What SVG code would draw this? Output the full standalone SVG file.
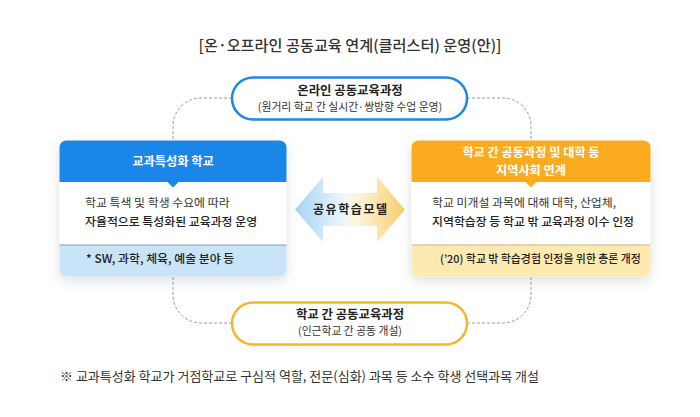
<svg xmlns="http://www.w3.org/2000/svg" width="700" height="417" viewBox="0 0 700 417">
<defs>
<style>
text{font-family:"Noto Sans CJK KR","Noto Sans",sans-serif;fill:#2b2b2b}
.title{font-size:15.2px;font-weight:500;fill:#333}
.ph{font-size:12.4px;font-weight:700;text-anchor:middle;fill:#222}
.ps{font-size:10.8px;text-anchor:middle;fill:#333}
.hd{font-size:12.2px;font-weight:700;fill:#fff;text-anchor:middle}
.b1{font-size:11.9px;font-weight:400;fill:#333}
.b2{font-size:11.9px;font-weight:500;fill:#222}
.ft{font-size:11.9px;font-weight:500;fill:#222}
.note{font-size:13px;fill:#333}
.dash{fill:none;stroke:#9a9a9a;stroke-width:1;stroke-dasharray:3 2}
</style>
<filter id="sh" x="-20%" y="-20%" width="140%" height="150%">
<feDropShadow dx="0" dy="4" stdDeviation="6" flood-color="#5a6a80" flood-opacity="0.22"/>
</filter>
<linearGradient id="ag" x1="295" y1="0" x2="405" y2="0" gradientUnits="userSpaceOnUse">
<stop offset="0" stop-color="#a6d4f2"/>
<stop offset="0.45" stop-color="#eef7fc"/>
<stop offset="0.55" stop-color="#fff6df"/>
<stop offset="1" stop-color="#f8cd6a"/>
</linearGradient>
</defs>
<rect width="700" height="417" fill="#fff"/>
<text class="title" x="350" y="51" text-anchor="middle">[온·오프라인 공동교육 연계(클러스터) 운영(안)]</text>
<g id="connectors">
<path class="dash" d="M232,98 H201 A28,28 0 0 0 173,126 V141"/>
<path class="dash" d="M467,98 H503 A28,28 0 0 1 531,126 V141"/>
<path class="dash" d="M173,277 V295 A28,28 0 0 0 201,323 H232"/>
<path class="dash" d="M531,277 V295 A28,28 0 0 1 503,323 H467"/>
</g>
<g id="online">
<rect x="232" y="77.5" width="235" height="42" rx="21" fill="#fff" stroke="#1f87e5" stroke-width="2.5"/>
<text class="ph" x="350" y="95">온라인 공동교육과정</text>
<text class="ps" x="350" y="111">(원거리 학교 간 실시간·쌍방향 수업 운영)</text>
</g>
<g id="left-box">
<g filter="url(#sh)">
<rect x="59.5" y="140.5" width="227" height="136" rx="7" fill="#fff"/>
</g>
<path d="M59.5,182 V147.5 A7,7 0 0 1 66.5,140.5 H279.5 A7,7 0 0 1 286.5,147.5 V182 Z" fill="#1a86e8"/>
<polygon points="167,181.5 179,181.5 173,187.5" fill="#1a86e8"/>
<path d="M59.5,245 H286.5 V269.5 A7,7 0 0 1 279.5,276.5 H66.5 A7,7 0 0 1 59.5,269.5 Z" fill="#c9e4f8"/>
<line x1="59.5" y1="245" x2="286.5" y2="245" stroke="#7f9db5" stroke-width="1"/>
<text class="hd" x="173" y="166">교과특성화 학교</text>
<text class="b1" x="85" y="207">학교 특색 및 학생 수요에 따라</text>
<text class="b2" x="85" y="226">자율적으로 특성화된 교육과정 운영</text>
<text class="ft" x="86" y="263">* SW, 과학, 체육, 예술 분야 등</text>
</g>
<g id="right-box">
<g filter="url(#sh)">
<rect x="411.5" y="140.5" width="239" height="136" rx="7" fill="#fff"/>
</g>
<path d="M411.5,182 V147.5 A7,7 0 0 1 418.5,140.5 H643.5 A7,7 0 0 1 650.5,147.5 V182 Z" fill="#fbab1e"/>
<polygon points="525,181.5 537,181.5 531,187.5" fill="#fbab1e"/>
<path d="M411.5,245 H650.5 V269.5 A7,7 0 0 1 643.5,276.5 H418.5 A7,7 0 0 1 411.5,269.5 Z" fill="#fdeab0"/>
<line x1="411.5" y1="245" x2="650.5" y2="245" stroke="#c9b27a" stroke-width="1"/>
<text class="hd" x="531" y="157">학교 간 공동과정 및 대학 등</text>
<text class="hd" x="531" y="174.5">지역사회 연계</text>
<text class="b1" x="432" y="207">학교 미개설 과목에 대해 대학, 산업체,</text>
<text class="b2" x="432" y="226">지역학습장 등 학교 밖 교육과정 이수 인정</text>
<text class="ft" x="440" y="263" style="font-size:10.9px">(’20) 학교 밖 학습경험 인정을 위한 총론 개정</text>
</g>
<g id="shared-model">
<polygon points="295,209.5 323,177 323,193 377,193 377,177 405,209.5 377,242 377,226 323,226 323,242" fill="url(#ag)"/>
<text x="350.8" y="214" text-anchor="middle" style="font-size:12px;font-weight:700;letter-spacing:1.6px;fill:#222">공유학습모델</text>
</g>
<g id="offline">
<rect x="232" y="302.5" width="235" height="42" rx="21" fill="#fff" stroke="#f8b52a" stroke-width="2.5"/>
<text class="ph" x="350" y="319">학교 간 공동교육과정</text>
<text class="ps" x="350" y="335">(인근학교 간 공동 개설)</text>
</g>
<text class="note" x="60" y="381">※ 교과특성화 학교가 거점학교로 구심적 역할, 전문(심화) 과목 등 소수 학생 선택과목 개설</text>
</svg>
